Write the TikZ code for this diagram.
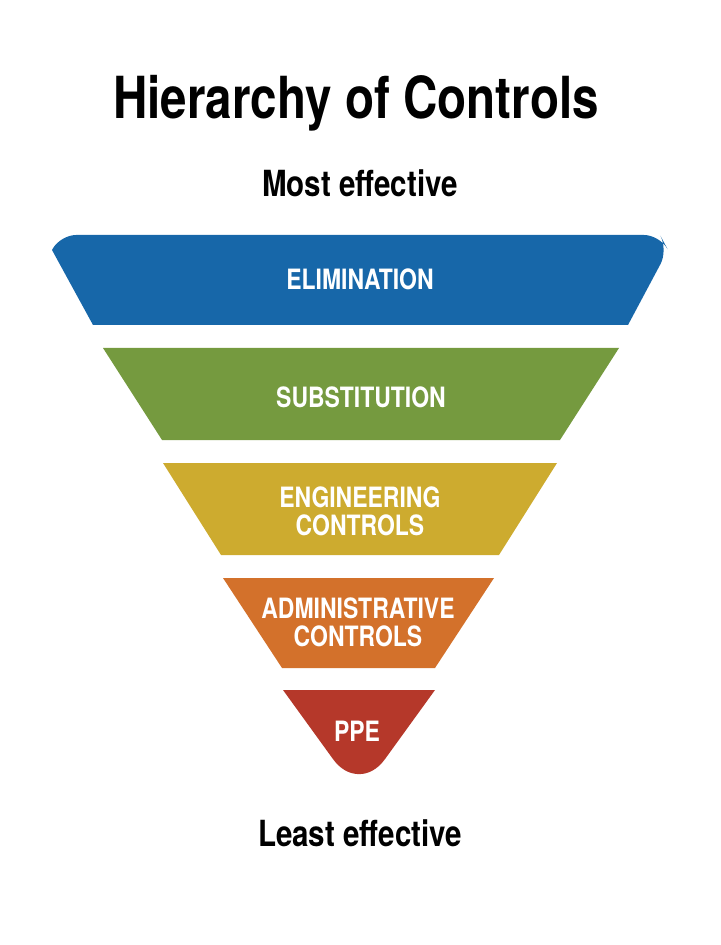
\documentclass[tikz,border=0pt]{standalone}
\usepackage{fontspec}
\setmainfont{TeX Gyre Heros}[FakeStretch=0.82]
\usetikzlibrary{positioning}
\definecolor{elimblue}{HTML}{1767A9}
\definecolor{subgreen}{HTML}{759A3F}
\definecolor{enggold}{HTML}{CDAB2F}
\definecolor{admorange}{HTML}{D3712B}
\definecolor{ppered}{HTML}{B5382A}
\begin{document}
\begin{tikzpicture}[x=0.5pt, y=-0.5pt,
  band/.style={draw=none},
  bandtext/.style={text=white, font=\bfseries\fontsize{14}{16}\selectfont, align=center},
  heading/.style={font=\bfseries\fontsize{18}{20}\selectfont}]
  \useasboundingbox (0,0) rectangle (720,945);
  % title
  \node[font=\bfseries\fontsize{29}{32}\selectfont] (title) at (356,103) {Hierarchy of Controls};
  \node[heading] (most) at (360,183) {Most effective};
  % bands
  \fill[elimblue] (93,325) -- (52,250) [rounded corners=8] -- (60,235) -- (660,235) -- (668,250) [sharp corners] -- (628,325) -- cycle;
  \fill[subgreen] (103,348) -- (619,348) -- (560,440) -- (162,440) -- cycle;
  \fill[enggold] (163,463) -- (557,463) -- (499,555) -- (221,555) -- cycle;
  \fill[admorange] (223,578) -- (494,578) -- (435,668) -- (282,668) -- cycle;
  \fill[ppered] (283,690) -- (435,690) [rounded corners=22] -- (359,795) [sharp corners] -- cycle;
  % labels
  \node[bandtext] (elim) at (360,279) {ELIMINATION};
  \node[bandtext] (subst) at (361,397) {SUBSTITUTION};
  \node[bandtext] (eng) at (360,511) {ENGINEERING\\[-2pt]CONTROLS};
  \node[bandtext] (adm) at (358,622) {ADMINISTRATIVE\\[-2pt]CONTROLS};
  \node[bandtext] (ppe) at (357,731) {PPE};
  \node[heading] (least) at (360,833) {Least effective};
\end{tikzpicture}
\end{document}
